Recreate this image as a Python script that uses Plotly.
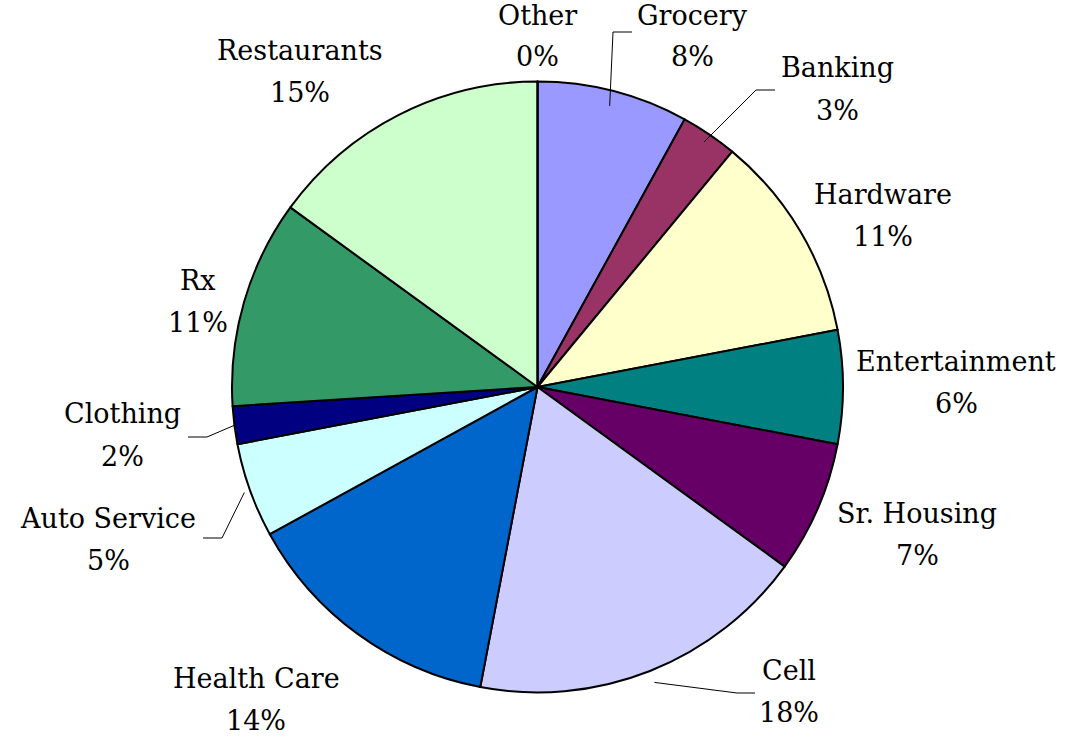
import math
import plotly.graph_objects as go

# Share of spending by category (percent), clockwise from 12 o'clock
categories = ["Grocery", "Banking", "Hardware", "Entertainment", "Sr. Housing", "Cell",
              "Health Care", "Auto Service", "Clothing", "Rx", "Restaurants", "Other"]
shares = [8, 3, 11, 6, 7, 18, 14, 5, 2, 11, 15, 0]
colors = ["#9999FF", "#993366", "#FFFFCC", "#008080", "#660066", "#CCCCFF",
          "#0066CC", "#CCFFFF", "#000080", "#339966", "#CCFFCC", "#FF8080"]

W, H = 1065, 740
CX, CY, R = 537.5, 387.0, 305.5  # pie centre and radius in page pixels

# Label centres (pixels): x, y of the name line; the percent sits one line lower
label_pos = {
    "Grocery": (692, 15), "Banking": (837, 68), "Hardware": (883, 195),
    "Entertainment": (956, 361), "Sr. Housing": (917, 513), "Cell": (789, 670),
    "Health Care": (256, 678), "Auto Service": (108, 518), "Clothing": (122, 414),
    "Rx": (198, 280), "Restaurants": (300, 51), "Other": (537, 15),
}
LINE_GAP = 42

# Leader lines: radial start factor, elbow and end point (pixels)
leaders = {
    "Grocery": (0.95, (613, 32), (632, 32)),
    "Banking": (0.97, (756, 90), (775, 90)),
    "Cell": (1.04, (737, 693), (755, 693)),
    "Auto Service": (1.02, (222, 538), (203, 538)),
    "Clothing": (1.0, (207, 437), (188, 437)),
}


def px(x):
    return x / W


def py(y):
    return 1 - y / H


total = sum(shares)
fig = go.Figure(go.Pie(
    labels=categories,
    values=shares,
    sort=False,
    direction="clockwise",
    rotation=0,
    marker=dict(colors=colors, line=dict(color="black", width=2)),
    textinfo="none",
    hoverinfo="label+percent",
    showlegend=False,
    domain=dict(x=[px(CX - R), px(CX + R)], y=[py(CY + R), py(CY - R)]),
))

font = dict(family="DejaVu Serif", size=27, color="black")
annotations = []
for name, v in zip(categories, shares):
    x, y = label_pos[name]
    pct = f"{round(v / total * 100)}%"
    annotations.append(dict(x=px(x), y=py(y), xref="paper", yref="paper", text=name,
                            showarrow=False, font=font, xanchor="center", yanchor="middle"))
    annotations.append(dict(x=px(x), y=py(y + LINE_GAP), xref="paper", yref="paper", text=pct,
                            showarrow=False, font=font, xanchor="center", yanchor="middle"))

shapes = []
cum = 0
for name, v in zip(categories, shares):
    mid = (cum + v / 2) / total
    cum += v
    if name not in leaders:
        continue
    k, (ex, ey), (tx, ty) = leaders[name]
    theta = 2 * math.pi * mid
    sx = CX + k * R * math.sin(theta)
    sy = CY - k * R * math.cos(theta)
    path = f"M {px(sx)} {py(sy)} L {px(ex)} {py(ey)} L {px(tx)} {py(ty)}"
    shapes.append(dict(type="path", path=path, xref="paper", yref="paper",
                       line=dict(color="black", width=1)))

fig.update_layout(
    width=W, height=H,
    margin=dict(l=0, r=0, t=0, b=0),
    paper_bgcolor="white", plot_bgcolor="white",
    annotations=annotations, shapes=shapes,
)

fig.write_html("out.html")
